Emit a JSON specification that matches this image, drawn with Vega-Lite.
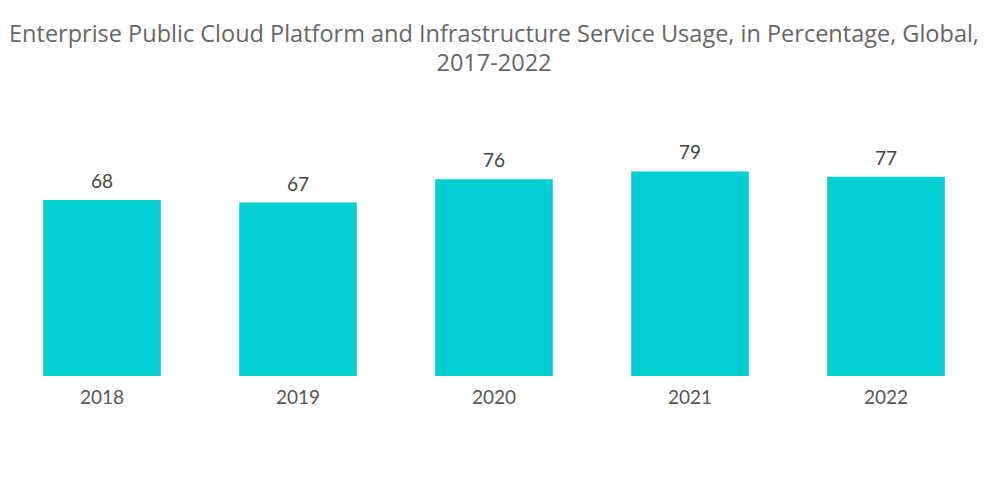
{
  "$schema": "https://vega.github.io/schema/vega-lite/v6.json",
  "autosize": {"type": "none"},
  "padding": {"left": 4, "top": 143, "right": 16, "bottom": 128},
  "width": 980,
  "height": 233,
  "background": "white",
  "title": {
    "text": ["Enterprise Public Cloud Platform and Infrastructure Service Usage, in Percentage, Global,", "2017-2022"],
    "anchor": "middle",
    "font": "Open Sans",
    "fontSize": 23.5,
    "fontWeight": "normal",
    "color": "#666666",
    "lineHeight": 29,
    "offset": 68
  },
  "data": {
    "values": [
      {"year": "2018", "value": 68},
      {"year": "2019", "value": 67},
      {"year": "2020", "value": 76},
      {"year": "2021", "value": 79},
      {"year": "2022", "value": 77}
    ]
  },
  "encoding": {
    "x": {
      "field": "year", "type": "nominal", "sort": null,
      "scale": {"paddingInner": 0.4, "paddingOuter": 0.2},
      "axis": {"title": null, "labelAngle": 0, "domain": false, "ticks": false, "labelPadding": 12, "labelFont": "Lato", "labelFontSize": 19, "labelColor": "#555555"}
    },
    "y": {
      "field": "value", "type": "quantitative",
      "scale": {"domain": [0, 90], "nice": false},
      "axis": null
    }
  },
  "layer": [
    {"mark": {"type": "bar", "color": "#00CED1"}},
    {"mark": {"type": "text", "baseline": "bottom", "dy": -8, "font": "Lato", "fontSize": 19, "color": "#444444"},
     "encoding": {"text": {"field": "value", "type": "quantitative"}}}
  ],
  "config": {"view": {"stroke": null}}
}
